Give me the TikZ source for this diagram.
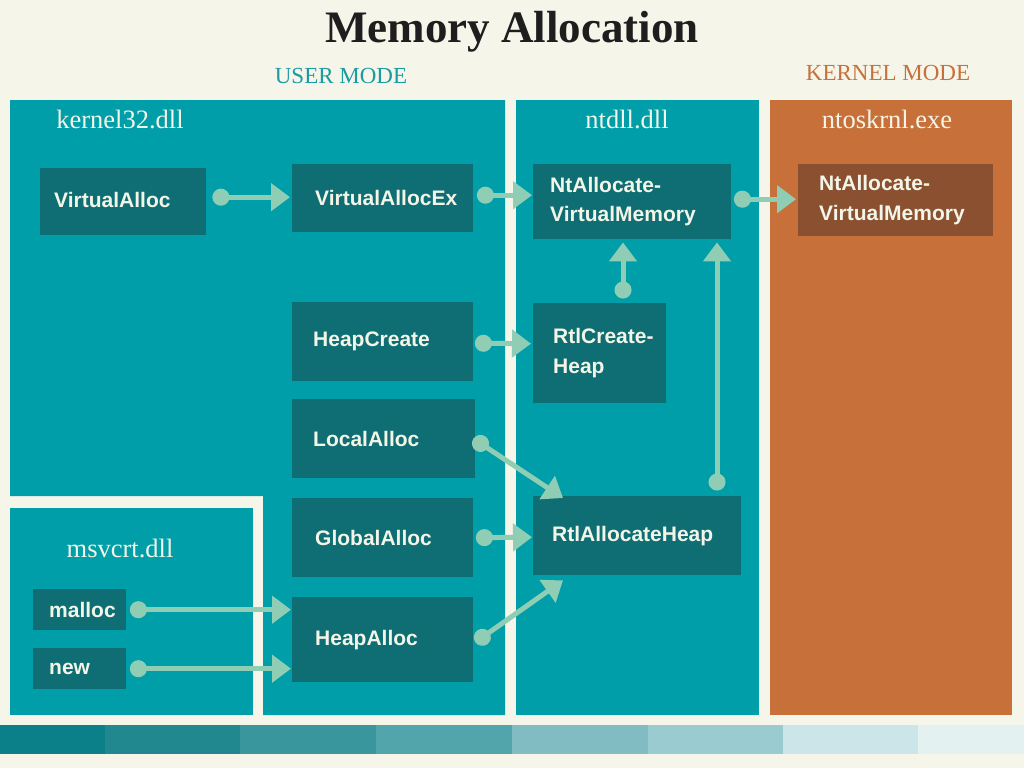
\documentclass[tikz,border=0pt]{standalone}
\usepackage{fontspec}
\setmainfont{Liberation Serif}
\setsansfont{Liberation Sans}
\usetikzlibrary{arrows.meta,calc}
\definecolor{bg}{HTML}{F5F5E9}
\definecolor{panel}{HTML}{009EA8}
\definecolor{dk}{HTML}{0F6E73}
\definecolor{kpanel}{HTML}{C8703A}
\definecolor{kdk}{HTML}{8A5030}
\definecolor{cn}{HTML}{90CDB5}
\definecolor{boxtxt}{HTML}{F3F5E8}
\definecolor{usr}{HTML}{1A9CA2}
\definecolor{ttl}{HTML}{1E1E1E}
\definecolor{bA}{HTML}{0C8088}
\definecolor{bB}{HTML}{22888F}
\definecolor{bC}{HTML}{3A969D}
\definecolor{bD}{HTML}{52A6AB}
\definecolor{bE}{HTML}{80BCC1}
\definecolor{bF}{HTML}{9ACBD0}
\definecolor{bG}{HTML}{CCE5E8}
\definecolor{bH}{HTML}{E3F1F1}
\tikzset{
  box/.style={fill=dk, anchor=north west, inner sep=0pt},
  kbox/.style={box, fill=kdk},
  lbl/.style={anchor=west, inner sep=0pt, text=boxtxt, align=left,
    font=\sffamily\bfseries\fontsize{21}{29.5}\selectfont},
  dll/.style={anchor=base, text=boxtxt, font=\fontsize{26.5}{30}\selectfont},
  mode/.style={anchor=base, font=\fontsize{23}{27}\selectfont},
  conn/.style={draw=cn, line width=5pt,
    {Circle[length=17pt,width=17pt]}-{Triangle[length=19pt,width=27pt]}}
}
\begin{document}
\begin{tikzpicture}[x=1pt,y=-1pt]
\useasboundingbox (0,0) rectangle (1024,768);
\fill[bg] (0,0) rectangle (1024,768);
% panels
\fill[panel] (10,100) -- (505,100) -- (505,715) -- (263,715) -- (263,496) -- (10,496) -- cycle;
\fill[panel] (10,508) rectangle (253,715);
\fill[panel] (516,100) rectangle (759,715);
\fill[kpanel] (770,100) rectangle (1012,715);
% colour bar
\fill[bA] (0,725) rectangle (105,754);
\fill[bB] (105,725) rectangle (240,754);
\fill[bC] (240,725) rectangle (376,754);
\fill[bD] (376,725) rectangle (512,754);
\fill[bE] (512,725) rectangle (648,754);
\fill[bF] (648,725) rectangle (783,754);
\fill[bG] (783,725) rectangle (918,754);
\fill[bH] (918,725) rectangle (1024,754);
% titles
\node[anchor=base, text=ttl, font=\bfseries\fontsize{45}{50}\selectfont] (title) at (512,42) {Memory Allocation};
\node[mode, text=usr] (user) at (341,83) {USER MODE};
\node[mode, text=kpanel] (kern) at (888,80) {KERNEL MODE};
\node[dll] (k32) at (120,128) {kernel32.dll};
\node[dll] (ntd) at (627,128) {ntdll.dll};
\node[dll] (nto) at (887,128) {ntoskrnl.exe};
\node[dll] (msv) at (120,557) {msvcrt.dll};
% boxes
\node[box, minimum width=166pt, minimum height=67pt, label={[lbl, xshift=14pt, yshift=2pt]west:VirtualAlloc}] (va) at (40,168) {};
\node[box, minimum width=181pt, minimum height=68pt, label={[lbl, xshift=23pt]west:VirtualAllocEx}] (vax) at (292,164) {};
\node[box, minimum width=198pt, minimum height=75pt, label={[lbl, xshift=17pt]west:NtAllocate-\\VirtualMemory}] (nta) at (533,164) {};
\node[kbox, minimum width=195pt, minimum height=72pt, label={[lbl, xshift=21pt]west:NtAllocate-\\VirtualMemory}] (ntk) at (798,164) {};
\node[box, minimum width=181pt, minimum height=79pt, label={[lbl, xshift=21pt]west:HeapCreate}] (hc) at (292,302) {};
\node[box, minimum width=133pt, minimum height=100pt, label={[lbl, xshift=20pt]west:RtlCreate-\\Heap}] (rch) at (533,303) {};
\node[box, minimum width=183pt, minimum height=79pt, label={[lbl, xshift=21pt]west:LocalAlloc}] (la) at (292,399) {};
\node[box, minimum width=181pt, minimum height=79pt, label={[lbl, xshift=23pt]west:GlobalAlloc}] (ga) at (292,498) {};
\node[box, minimum width=181pt, minimum height=85pt, label={[lbl, xshift=23pt]west:HeapAlloc}] (ha) at (292,597) {};
\node[box, minimum width=208pt, minimum height=79pt, label={[lbl, xshift=19pt]west:RtlAllocateHeap}] (rah) at (533,496) {};
\node[box, minimum width=93pt, minimum height=41pt, label={[lbl, xshift=16pt]west:malloc}] (ml) at (33,589) {};
\node[box, minimum width=93pt, minimum height=41pt, label={[lbl, xshift=16pt]west:new}] (nw) at (33,648) {};
% connectors
\draw[conn] ($(va.east)+(6,-4.5)$) -- ($(vax.west)+(-2,-1)$);
\draw[conn] ($(vax.east)+(3.5,-3)$) -- ($(nta.west)+(-1,-6.5)$);
\draw[conn] ($(nta.east)+(2.5,-2.5)$) -- ($(ntk.west)+(-2,-1)$);
\draw[conn] ($(hc.east)+(1.5,1.5)$) -- ($(rch.west)+(-2,-9.5)$);
\draw[conn] ($(rch.north west)+(90,-4.5)$) -- ($(nta.south west)+(90,3)$);
\draw[conn] ($(rah.north west)+(184,-5.5)$) -- ($(nta.south west)+(184,3)$);
\draw[conn] ($(la.east)+(-2,0)$) -- ($(rah.north west)+(30,2)$);
\draw[conn] ($(ga.east)+(2.5,0)$) -- ($(rah.west)+(-1,1.5)$);
\draw[conn] ($(ha.east)+(2,2.5)$) -- ($(rah.south west)+(30,5)$);
\draw[conn] ($(ml.east)+(3.5,0)$) -- ($(ha.west)+(-1,-30)$);
\draw[conn] ($(nw.east)+(3.5,0)$) -- ($(ha.west)+(-1,29)$);
\end{tikzpicture}
\end{document}
